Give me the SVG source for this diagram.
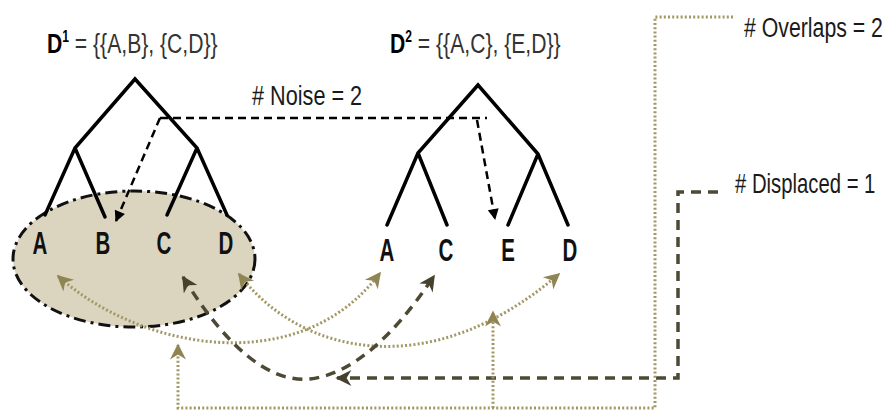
<svg xmlns="http://www.w3.org/2000/svg" width="891" height="412" viewBox="0 0 891 412">
<style>
.tree{fill:none;stroke:#000;stroke-width:3.5;stroke-linecap:round;stroke-linejoin:miter}
.lbl{font-family:"Liberation Sans",Arial,sans-serif;font-size:32px;font-weight:bold;fill:#111;text-anchor:middle}
.ttl{font-family:"Liberation Sans",Arial,sans-serif;font-size:28px;fill:#333}
.b{font-weight:bold;fill:#000}
.sup{font-size:16px;font-weight:bold;fill:#000}
.note{font-family:"Liberation Sans",Arial,sans-serif;font-size:28px;fill:#1a1a1a}
.dot{fill:none;stroke:#a39865;stroke-width:3;stroke-dasharray:2 2.2}
.dash{fill:none;stroke:#4d4934;stroke-width:3.5;stroke-dasharray:10 7}
.noise{fill:none;stroke:#000;stroke-width:2.5;stroke-dasharray:8 5}
</style>
<defs>
<marker id="mOlive" viewBox="0 0 10 10" refX="9" refY="5" markerUnits="userSpaceOnUse" markerWidth="19" markerHeight="16" orient="auto-start-reverse">
<path d="M0,0 L10,5 L0,10 L3,5 z" fill="#8f8552"/>
</marker>
<marker id="mDark" viewBox="0 0 10 10" refX="9" refY="5" markerUnits="userSpaceOnUse" markerWidth="19" markerHeight="16" orient="auto-start-reverse">
<path d="M0,0 L10,5 L0,10 L3,5 z" fill="#45412c"/>
</marker>
<marker id="mBlack" viewBox="0 0 10 10" refX="9" refY="5" markerUnits="userSpaceOnUse" markerWidth="16" markerHeight="11" orient="auto">
<path d="M0,0 L10,5 L0,10 z" fill="#000"/>
</marker>
</defs>

<g id="cluster">
<ellipse cx="134" cy="259" rx="121" ry="68" fill="#dbd4bf" stroke="#111" stroke-width="3" stroke-dasharray="12 5 3 5"/>
</g>

<g id="tree1">
<path class="tree" d="M45,215 L75,148 L135,79 L197,148 L227,215 M75,148 L105,217 M197,148 L167,215"/>
<text class="ttl" transform="translate(47,53) scale(0.755,1)"><tspan class="b">D</tspan><tspan class="sup" dy="-11">1</tspan><tspan dy="11"> = {{A,B}, {C,D}}</tspan></text>
<text class="lbl" transform="translate(40,254) scale(0.64,1)">A</text>
<text class="lbl" transform="translate(103,254) scale(0.64,1)">B</text>
<text class="lbl" transform="translate(164,254) scale(0.64,1)">C</text>
<text class="lbl" transform="translate(226,254) scale(0.64,1)">D</text>
</g>

<g id="tree2">
<path class="tree" d="M387,225 L418,153 L478,85 L538,154 L568,225 M418,153 L447,225 M538,154 L508,225"/>
<text class="ttl" transform="translate(390,53) scale(0.755,1)"><tspan class="b">D</tspan><tspan class="sup" dy="-11">2</tspan><tspan dy="11"> = {{A,C}, {E,D}}</tspan></text>
<text class="lbl" transform="translate(387,261) scale(0.64,1)">A</text>
<text class="lbl" transform="translate(446,261) scale(0.64,1)">C</text>
<text class="lbl" transform="translate(508,261) scale(0.64,1)">E</text>
<text class="lbl" transform="translate(570,261) scale(0.64,1)">D</text>
</g>

<g id="labels">
<text class="note" transform="translate(252,105) scale(0.774,1)"># Noise = 2</text>
<text class="note" transform="translate(744,37) scale(0.76,1)"># Overlaps = 2</text>
<text class="note" transform="translate(735,193) scale(0.725,1)"># Displaced = 1</text>
</g>

<g id="connectors">
<path class="noise" d="M160,118 H487"/>
<path class="noise" d="M160,118 L116,221" marker-end="url(#mBlack)"/>
<path class="noise" d="M477,120 L495,219" marker-end="url(#mBlack)"/>
<path class="dot" d="M58,276 C140,350 300,380 380,273" marker-start="url(#mOlive)" marker-end="url(#mOlive)"/>
<path class="dot" d="M239,274 C300,355 430,385 559,274" marker-start="url(#mOlive)" marker-end="url(#mOlive)"/>
<path class="dash" d="M183,277 Q250,385 310,379 Q370,372 434,276" marker-start="url(#mDark)" marker-end="url(#mDark)"/>
<path class="dash" d="M718,192 H678 V378 H337" marker-end="url(#mDark)"/>
<path class="dot" d="M733,17 H655 V408 H178 V345" marker-end="url(#mOlive)"/>
<path class="dot" d="M493,408 V312" marker-end="url(#mOlive)"/>
</g>
</svg>
